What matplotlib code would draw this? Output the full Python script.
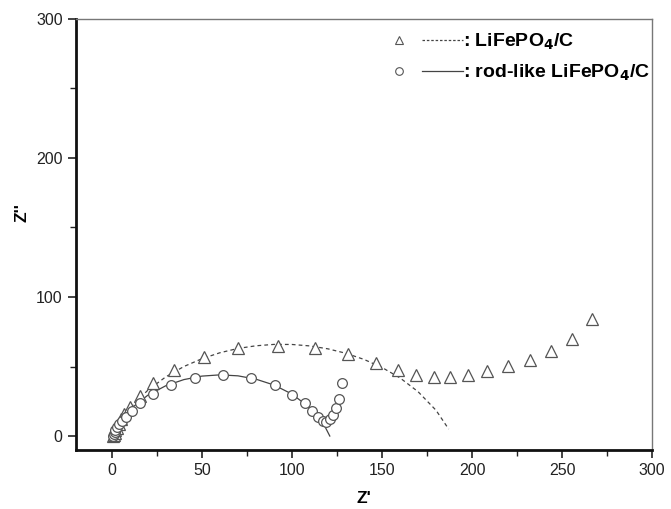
import matplotlib
matplotlib.use('Agg')
import matplotlib.pyplot as plt
from matplotlib.lines import Line2D
from matplotlib.legend_handler import HandlerTuple
from matplotlib.ticker import MultipleLocator

plt.rcParams['font.family'] = ['Liberation Sans', 'DejaVu Sans']

# LiFePO4/C measured points (triangles)
tri_x = [0.5, 1, 1.5, 2, 3, 4, 5, 7, 10, 15.5, 23, 34.7, 51, 70, 92, 113, 131,
         146.7, 159, 169, 179, 188, 198, 208, 220, 232, 244, 255.6, 266.7]
tri_y = [0, 1, 2.5, 4, 6, 9, 12, 16, 21, 29, 38, 47.5, 57, 63, 65, 63, 59,
         52.5, 47.5, 44, 42.4, 42.4, 44, 47, 50.4, 54.7, 61, 70, 84]

# rod-like LiFePO4/C measured points (circles)
circ_x = [0.5, 1, 1.5, 2, 3, 4, 5.5, 8, 11, 15.5, 23, 33, 46, 61.5, 77.5, 90.5,
          100, 107, 111, 114.5, 117, 119, 121, 123, 124.5, 126, 128]
circ_y = [0, 1.5, 3, 4.5, 6.5, 8.5, 11, 14, 18, 23.7, 30, 37, 42, 44, 42, 37,
          29.5, 23.7, 18, 14, 11, 10, 12, 15, 20, 26.6, 38]

# fitted curves
fit1_x = [0, 5, 10, 20, 30, 40, 50, 60, 70, 80, 90, 100, 110, 120, 130, 140,
          150, 160, 170, 180, 187]
fit1_y = [0, 11.4, 20.0, 33.0, 42.6, 50.0, 55.6, 59.9, 63.0, 64.9, 65.9, 65.85,
          64.8, 62.7, 59.5, 55.1, 49.3, 41.8, 31.9, 18.5, 5.0]
fit2_x = [0, 5, 10, 20, 30, 40, 50, 60, 70, 80, 90, 100, 110, 115, 118, 121]
fit2_y = [0, 11.5, 19.1, 29.4, 36.2, 40.6, 43.1, 44.0, 43.3, 40.9, 36.7, 30.2,
          20.3, 13.2, 7.6, 0]

fig = plt.figure(figsize=(6.71, 5.09), dpi=100)
ax = fig.add_axes([0.113, 0.116, 0.859, 0.847])

gray = '#444444'
ax.plot(fit1_x, fit1_y, ls=(0, (3, 2.5)), color=gray, lw=0.9)
ax.plot(fit2_x, fit2_y, ls='-', color=gray, lw=0.9)
ax.plot(tri_x, tri_y, ls='none', marker='^', ms=8, mfc='white', mec='#555555', mew=0.9)
ax.plot(circ_x, circ_y, ls='none', marker='o', ms=7, mfc='white', mec='#555555', mew=0.9)

ax.set_xlim(-20, 300)
ax.set_ylim(-10, 300)
ax.xaxis.set_major_locator(MultipleLocator(50))
ax.xaxis.set_minor_locator(MultipleLocator(25))
ax.yaxis.set_major_locator(MultipleLocator(100))
ax.yaxis.set_minor_locator(MultipleLocator(50))
ax.tick_params(which='major', direction='out', length=6, width=1.2, labelsize=11.5,
               labelcolor='#222222', color='#222222')
ax.tick_params(which='minor', direction='out', length=4, width=1.0, color='#222222')
ax.tick_params(top=False, right=False)

for s in ['left', 'bottom']:
    ax.spines[s].set_linewidth(2.0)
    ax.spines[s].set_color('#111111')
for s in ['top', 'right']:
    ax.spines[s].set_linewidth(1.0)
    ax.spines[s].set_color('#777777')

ax.set_xlabel("Z'", fontsize=12.5, fontweight='bold')
ax.xaxis.set_label_coords(0.5, -0.095)
ax.set_ylabel("Z''", fontsize=12.5, fontweight='bold')
ax.yaxis.set_label_coords(-0.08, 0.55)

h_tri = Line2D([], [], ls='none', marker='^', ms=6, mfc='white', mec='#555555', mew=0.8)
h_circ = Line2D([], [], ls='none', marker='o', ms=5.5, mfc='white', mec='#555555', mew=0.8)
h_dash = Line2D([], [], ls=(0, (2, 1.5)), color=gray, lw=0.9)
h_solid = Line2D([], [], ls='-', color=gray, lw=0.9)
ax.legend([(h_tri, h_dash), (h_circ, h_solid)],
          [': LiFePO$_\\mathbf{4}$/C', ': rod-like LiFePO$_\\mathbf{4}$/C'],
          handler_map={tuple: HandlerTuple(ndivide=None, pad=0.13)},
          handlelength=4.35, handletextpad=0.0, frameon=False,
          borderpad=0, borderaxespad=0,
          prop={'weight': 'bold', 'size': 14}, loc='upper left',
          bbox_to_anchor=(0.525, 0.97), labelspacing=0.55)

fig.savefig('out.png', dpi=100)
